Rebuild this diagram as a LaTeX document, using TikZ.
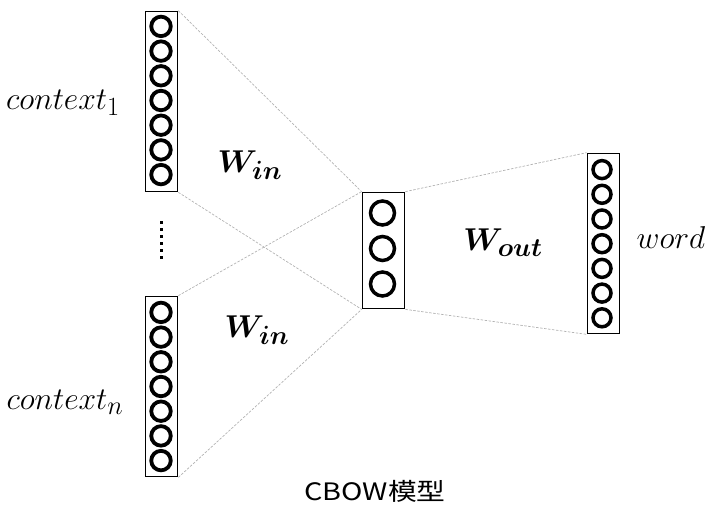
\documentclass[tikz,border=0pt]{standalone}
\usepackage{amsmath}
\usepackage{bm}
\usepackage{fontspec}
\usepackage{xcolor}
\newfontfamily\cjk{Noto Sans CJK SC}
\newcommand{\bigtxt}[1]{\scalebox{1.27}{\Huge #1}}

\begin{document}
\begin{tikzpicture}[x=1pt, y=-1pt,
  layer/.style={draw, line width=1.7pt, inner sep=0pt, minimum width=32pt, minimum height=180pt},
  unit/.style={circle, draw, line width=3.8pt, inner sep=0pt, minimum size=19.5pt},
  wire/.style={gray!60, line width=0.7pt, dash pattern=on 2.5pt off 1.5pt},
  lbl/.style={inner sep=0pt}]
\useasboundingbox (0,0) rectangle (718,511);
% Draw the three layers: two context inputs, the hidden layer and the output word
\node[layer] (ctxa) at (161.5,101.5) {};
\node[layer] (ctxn) at (161.5,386.5) {};
\node[layer, minimum width=42pt, minimum height=116pt] (hid) at (383.5,250.5) {};
\node[layer] (out) at (603.5,243.5) {};
% Units inside the layers
\foreach \i in {1,...,7} {
  \node[unit] (a\i) at (161, {26.4+24.7*(\i-1)}) {};
  \node[unit] (n\i) at (161, {312.4+24.7*(\i-1)}) {};
  \node[unit, line width=3.5pt, minimum size=18pt] (o\i) at (602, {169.6+24.7*(\i-1)}) {};
}
\foreach \i/\y in {1/213, 2/248.5, 3/284}
  \node[unit, line width=3.5pt, minimum size=24pt] (h\i) at (382.5,\y) {};
% The vertical dots between the two context layers
\foreach \k in {0,...,5}
  \fill (160, {221+7*\k}) rectangle +(2.5,2.5);
% Dashed connections between the layers
\draw[wire] (ctxa.north east) -- (hid.north west);
\draw[wire] (ctxa.south east) -- (hid.south west);
\draw[wire] (ctxn.north east) -- (hid.north west);
\draw[wire] (ctxn.south east) -- (hid.south west);
\draw[wire] (hid.north east) -- (out.north west);
\draw[wire] (hid.south east) -- (out.south west);
% Labels
\node[lbl] (lctxa) at (63,103) {\bigtxt{$context_1$}};
\node[lbl] (lctxn) at (65,402) {\bigtxt{$context_n$}};
\node[lbl] (win1) at (250,165) {\bigtxt{$\bm{W_{in}}$}};
\node[lbl] (win2) at (257,330) {\bigtxt{$\bm{W_{in}}$}};
\node[lbl] (wout) at (503,243) {\bigtxt{$\bm{W_{out}}$}};
\node[lbl] (lword) at (671,238) {\bigtxt{$word$}};
\node[inner sep=0pt] (title) at (375,491) {\scalebox{1.2}[1]{\cjk\fontsize{24}{28}\selectfont CBOW模型}};
\end{tikzpicture}
\end{document}
